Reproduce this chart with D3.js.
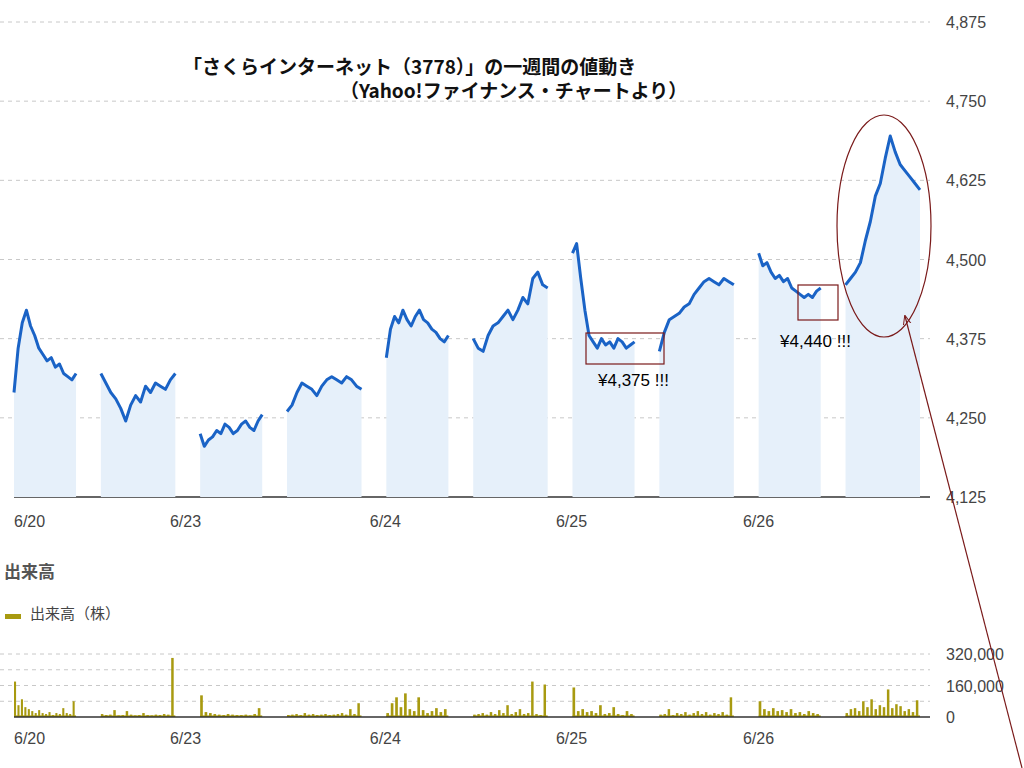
<!DOCTYPE html>
<html lang="ja">
<head>
<meta charset="utf-8">
<script src="https://d3js.org/d3.v7.min.js"></script>
<style>
  body { margin: 0; background: #fff; font-family: Arial, 'Liberation Sans', 'Noto Sans CJK JP', sans-serif; }
  .grid line { stroke: #c8c8c8; stroke-dasharray: 4,4; }
  .axis text { fill: #444; font-size: 16px; }
</style>
</head>
<body>
<svg id="chart" width="1024" height="768"></svg>
<script>
// session layout in trading minutes: morning 150, lunch gap 60, afternoon 180, overnight gap 60
const sessionStarts = [0, 210, 450, 660, 900, 1110, 1350, 1560, 1800, 2010];
const sessionLens   = [150, 180, 150, 180, 150, 180, 150, 180, 150, 180];
const dateLabels = ["6/20", "6/23", "6/24", "6/25", "6/26"];
const dateTicks  = [0, 377, 860, 1310, 1762];
const priceTicks = [4125, 4250, 4375, 4500, 4625, 4750, 4875];
const volTicks = [0, 160000, 320000];
const volGrid = [80000, 160000, 240000, 320000];

const prices = [
  [4290, 4360, 4400, 4420, 4395, 4380, 4360, 4350, 4340, 4345, 4330, 4335, 4320, 4315, 4310, 4320],
  [4320, 4305, 4290, 4280, 4265, 4245, 4270, 4285, 4275, 4300, 4290, 4305, 4300, 4295, 4310, 4320],
  [4225, 4205, 4215, 4220, 4230, 4225, 4240, 4235, 4225, 4230, 4240, 4245, 4235, 4230, 4245, 4255],
  [4260, 4270, 4290, 4305, 4300, 4295, 4285, 4300, 4310, 4315, 4310, 4305, 4315, 4310, 4300, 4295],
  [4345, 4390, 4410, 4400, 4420, 4405, 4395, 4410, 4420, 4405, 4400, 4390, 4385, 4375, 4370, 4380],
  [4375, 4360, 4355, 4380, 4395, 4400, 4410, 4420, 4405, 4420, 4440, 4430, 4470, 4480, 4460, 4455],
  [4510, 4525, 4470, 4420, 4380, 4370, 4360, 4375, 4365, 4370, 4360, 4375, 4370, 4360, 4365, 4370],
  [4355, 4385, 4405, 4410, 4415, 4425, 4430, 4445, 4455, 4465, 4470, 4465, 4460, 4470, 4465, 4460],
  [4510, 4490, 4495, 4480, 4470, 4475, 4465, 4470, 4455, 4450, 4445, 4440, 4445, 4440, 4450, 4455],
  [4460, 4470, 4480, 4495, 4530, 4560, 4600, 4620, 4660, 4695, 4670, 4650, 4640, 4630, 4620, 4610]
];

const volumes = [
  [180000, 60000, 90000, 50000, 40000, 30000, 20000, 35000, 20000, 15000, 25000, 10000, 20000, 15000, 45000, 20000, 15000, 80000],
  [15000, 10000, 12000, 35000, 8000, 10000, 30000, 12000, 8000, 10000, 20000, 10000, 8000, 12000, 10000, 15000, 12000, 300000],
  [110000, 25000, 20000, 15000, 12000, 10000, 15000, 12000, 10000, 10000, 12000, 8000, 15000, 45000],
  [10000, 12000, 15000, 10000, 20000, 12000, 15000, 10000, 12000, 15000, 10000, 12000, 15000, 20000, 12000, 40000, 15000, 70000],
  [20000, 70000, 100000, 50000, 120000, 40000, 30000, 100000, 35000, 20000, 30000, 45000, 25000, 40000],
  [12000, 15000, 20000, 12000, 25000, 15000, 35000, 20000, 60000, 15000, 25000, 40000, 15000, 20000, 180000, 15000, 10000, 165000],
  [150000, 30000, 40000, 25000, 30000, 20000, 60000, 15000, 20000, 50000, 15000, 10000, 30000, 15000],
  [12000, 15000, 40000, 10000, 20000, 15000, 25000, 12000, 20000, 30000, 15000, 25000, 12000, 20000, 15000, 25000, 12000, 100000],
  [80000, 40000, 30000, 45000, 30000, 35000, 25000, 40000, 20000, 25000, 15000, 30000, 20000, 15000],
  [20000, 40000, 45000, 30000, 80000, 50000, 90000, 40000, 60000, 50000, 140000, 45000, 65000, 55000, 30000, 40000, 25000, 85000]
];

const svg = d3.select("#chart");
const x = d3.scaleLinear().domain([0, 2190]).range([14, 920]);
const y = d3.scaleLinear().domain([4125, 4875]).range([497, 22]);
const yv = d3.scaleLinear().domain([0, 320000]).range([717, 654]);

const series = prices.map((vals, i) => vals.map((v, j) => ({
  t: sessionStarts[i] + sessionLens[i] * j / (vals.length - 1), v })));

// price grid + axis
svg.append("g").attr("class", "grid").selectAll("line")
  .data(priceTicks.slice(1)).join("line")
  .attr("x1", 0).attr("x2", 930).attr("y1", d => y(d)).attr("y2", d => y(d));
svg.append("line").attr("x1", 14).attr("x2", 930)
  .attr("y1", y(4125)).attr("y2", y(4125)).attr("stroke", "#333").attr("stroke-width", 1.5);
svg.append("g").attr("class", "axis").selectAll("text")
  .data(priceTicks).join("text")
  .attr("x", 946).attr("y", d => y(d) + 6).text(d3.format(","));

const area = d3.area().x(d => x(d.t)).y0(y(4125)).y1(d => y(d.v));
const line = d3.line().x(d => x(d.t)).y(d => y(d.v));
svg.append("g").selectAll("path").data(series).join("path")
  .attr("d", area).attr("fill", "#e6f0fa");
svg.append("g").selectAll("path").data(series).join("path")
  .attr("d", line).attr("fill", "none").attr("stroke", "#1a63c6")
  .attr("stroke-width", 3).attr("stroke-linejoin", "round");

// date labels
[y(4125) + 30, 744].forEach(yy => {
  svg.append("g").attr("class", "axis").selectAll("text")
    .data(dateLabels).join("text")
    .attr("x", (d, i) => x(dateTicks[i])).attr("y", yy).text(d => d);
});

// volume panel
svg.append("text").attr("x", 4).attr("y", 578).attr("font-size", 17)
  .attr("font-weight", "bold").attr("fill", "#555").text("出来高");
svg.append("rect").attr("x", 5).attr("y", 614).attr("width", 16).attr("height", 5).attr("fill", "#a89a10");
svg.append("text").attr("x", 30).attr("y", 619).attr("font-size", 15).attr("fill", "#444").text("出来高（株）");

svg.append("g").attr("class", "grid").selectAll("line")
  .data(volGrid).join("line")
  .attr("x1", 0).attr("x2", 930).attr("y1", d => yv(d)).attr("y2", d => yv(d));
svg.append("g").attr("class", "axis").selectAll("text")
  .data(volTicks).join("text")
  .attr("x", 946).attr("y", d => yv(d) + 6).text(d3.format(","));

const bars = [];
volumes.forEach((vals, i) => vals.forEach((v, j) => bars.push({
  t0: sessionStarts[i] + sessionLens[i] * j / vals.length,
  t1: sessionStarts[i] + sessionLens[i] * (j + 1) / vals.length, v })));
svg.append("g").selectAll("rect").data(bars).join("rect")
  .attr("x", d => x(d.t0)).attr("width", d => (x(d.t1) - x(d.t0)) * 0.6)
  .attr("y", d => yv(d.v)).attr("height", d => yv(0) - yv(d.v))
  .attr("fill", "#a89a10");
// low baseline fill under each session
svg.append("g").selectAll("rect").data(sessionStarts).join("rect")
  .attr("x", (d, i) => x(d)).attr("width", (d, i) => x(d + sessionLens[i]) - x(d))
  .attr("y", yv(8000)).attr("height", yv(0) - yv(8000)).attr("fill", "#a89a10");
svg.append("line").attr("x1", 14).attr("x2", 930)
  .attr("y1", yv(0)).attr("y2", yv(0)).attr("stroke", "#333").attr("stroke-width", 1.5);

// annotations
const title = svg.append("text").attr("font-size", 19).attr("font-weight", "bold")
  .attr("font-family", "'Noto Sans CJK JP', sans-serif").attr("fill", "#111");
title.append("tspan").attr("x", 183).attr("y", 74).text("「さくらインターネット（3778）」の一週間の値動き");
title.append("tspan").attr("x", 340).attr("y", 98).text("（Yahoo!ファイナンス・チャートより）");

const red = "#7a1a1a";
svg.append("rect").attr("x", 586).attr("y", 333).attr("width", 78).attr("height", 31)
  .attr("fill", "none").attr("stroke", red).attr("stroke-width", 1.2);
svg.append("text").attr("x", 598).attr("y", 386).attr("font-size", 17).text("¥4,375 !!!");
svg.append("rect").attr("x", 798).attr("y", 285).attr("width", 40).attr("height", 35)
  .attr("fill", "none").attr("stroke", red).attr("stroke-width", 1.2);
svg.append("text").attr("x", 780).attr("y", 347).attr("font-size", 17).text("¥4,440 !!!");
svg.append("ellipse").attr("cx", 884).attr("cy", 226).attr("rx", 47).attr("ry", 111)
  .attr("fill", "none").attr("stroke", red).attr("stroke-width", 1.2);
svg.append("defs").append("marker").attr("id", "arr").attr("viewBox", "0 0 10 10")
  .attr("refX", 9).attr("refY", 5).attr("markerWidth", 8).attr("markerHeight", 8)
  .attr("orient", "auto").append("path").attr("d", "M0,1 L10,5 L0,9").attr("fill", "none").attr("stroke", red);
svg.append("line").attr("x1", 1022).attr("y1", 768).attr("x2", 905).attr("y2", 316)
  .attr("stroke", red).attr("stroke-width", 1.2).attr("marker-end", "url(#arr)");
</script>
</body>
</html>
